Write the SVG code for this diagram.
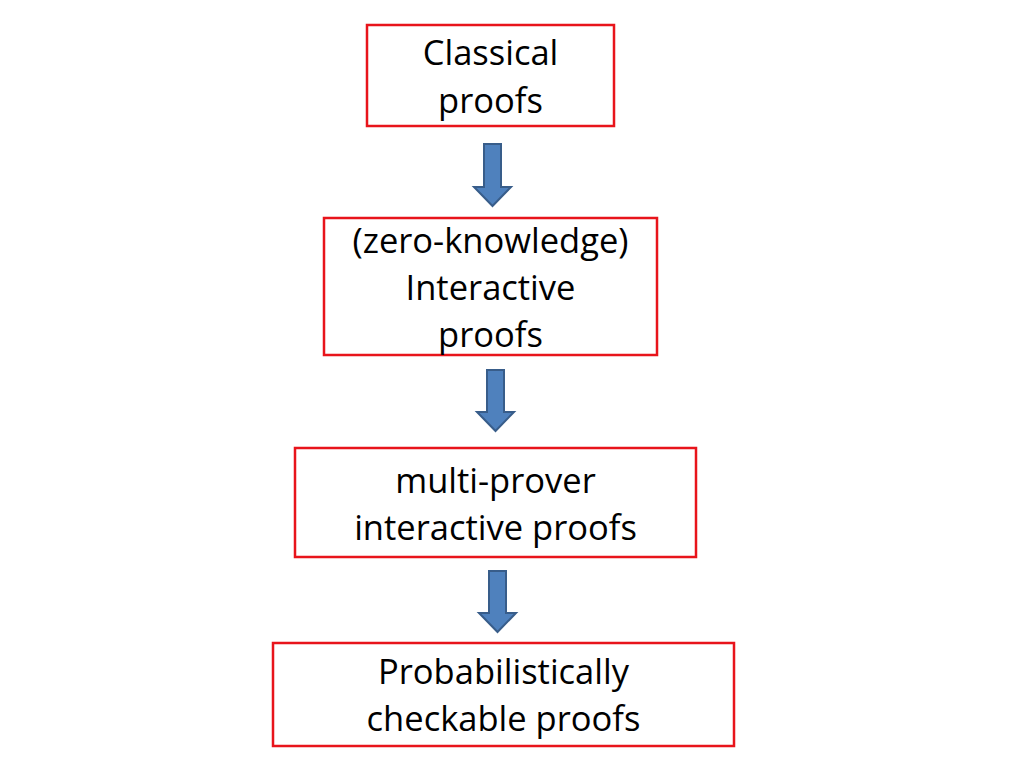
<svg xmlns="http://www.w3.org/2000/svg" width="1024" height="768" viewBox="0 0 1024 768">
<style>
.box{fill:#fff;stroke:#e8141b;stroke-width:2.5}
.t{font-family:"Open Sans","Liberation Sans",sans-serif;font-size:34.5px;fill:#000;text-anchor:middle}
.arr{fill:#4f81bd;stroke:#385d8a;stroke-width:2}
</style>
<rect width="1024" height="768" fill="#fff"/>
<g id="n1"><rect class="box" x="367" y="25" width="247" height="101"/>
<text class="t" x="490.5" y="65">Classical</text><text class="t" x="490.5" y="113">proofs</text></g>
<g id="n2"><rect class="box" x="324" y="218" width="333" height="137"/>
<text class="t" x="490.5" y="253">(zero-knowledge)</text><text class="t" x="490.5" y="300">Interactive</text><text class="t" x="490.5" y="347">proofs</text></g>
<g id="n3"><rect class="box" x="295" y="448" width="401" height="109"/>
<text class="t" x="495.5" y="493">multi-prover</text><text class="t" x="495.5" y="540">interactive proofs</text></g>
<g id="n4"><rect class="box" x="273" y="643" width="461" height="103"/>
<text class="t" x="503.5" y="684">Probabilistically</text><text class="t" x="503.5" y="731">checkable proofs</text></g>
<g id="connectors">
<path class="arr" d="M484,144 H501 V187 H511 L492.5,206 L474,187 H484 Z"/>
<path class="arr" d="M487,370 H504 V412 H514 L495.5,431 L477,412 H487 Z"/>
<path class="arr" d="M489,571 H506 V613 H516 L497.5,632 L479,613 H489 Z"/>
</g>
</svg>
